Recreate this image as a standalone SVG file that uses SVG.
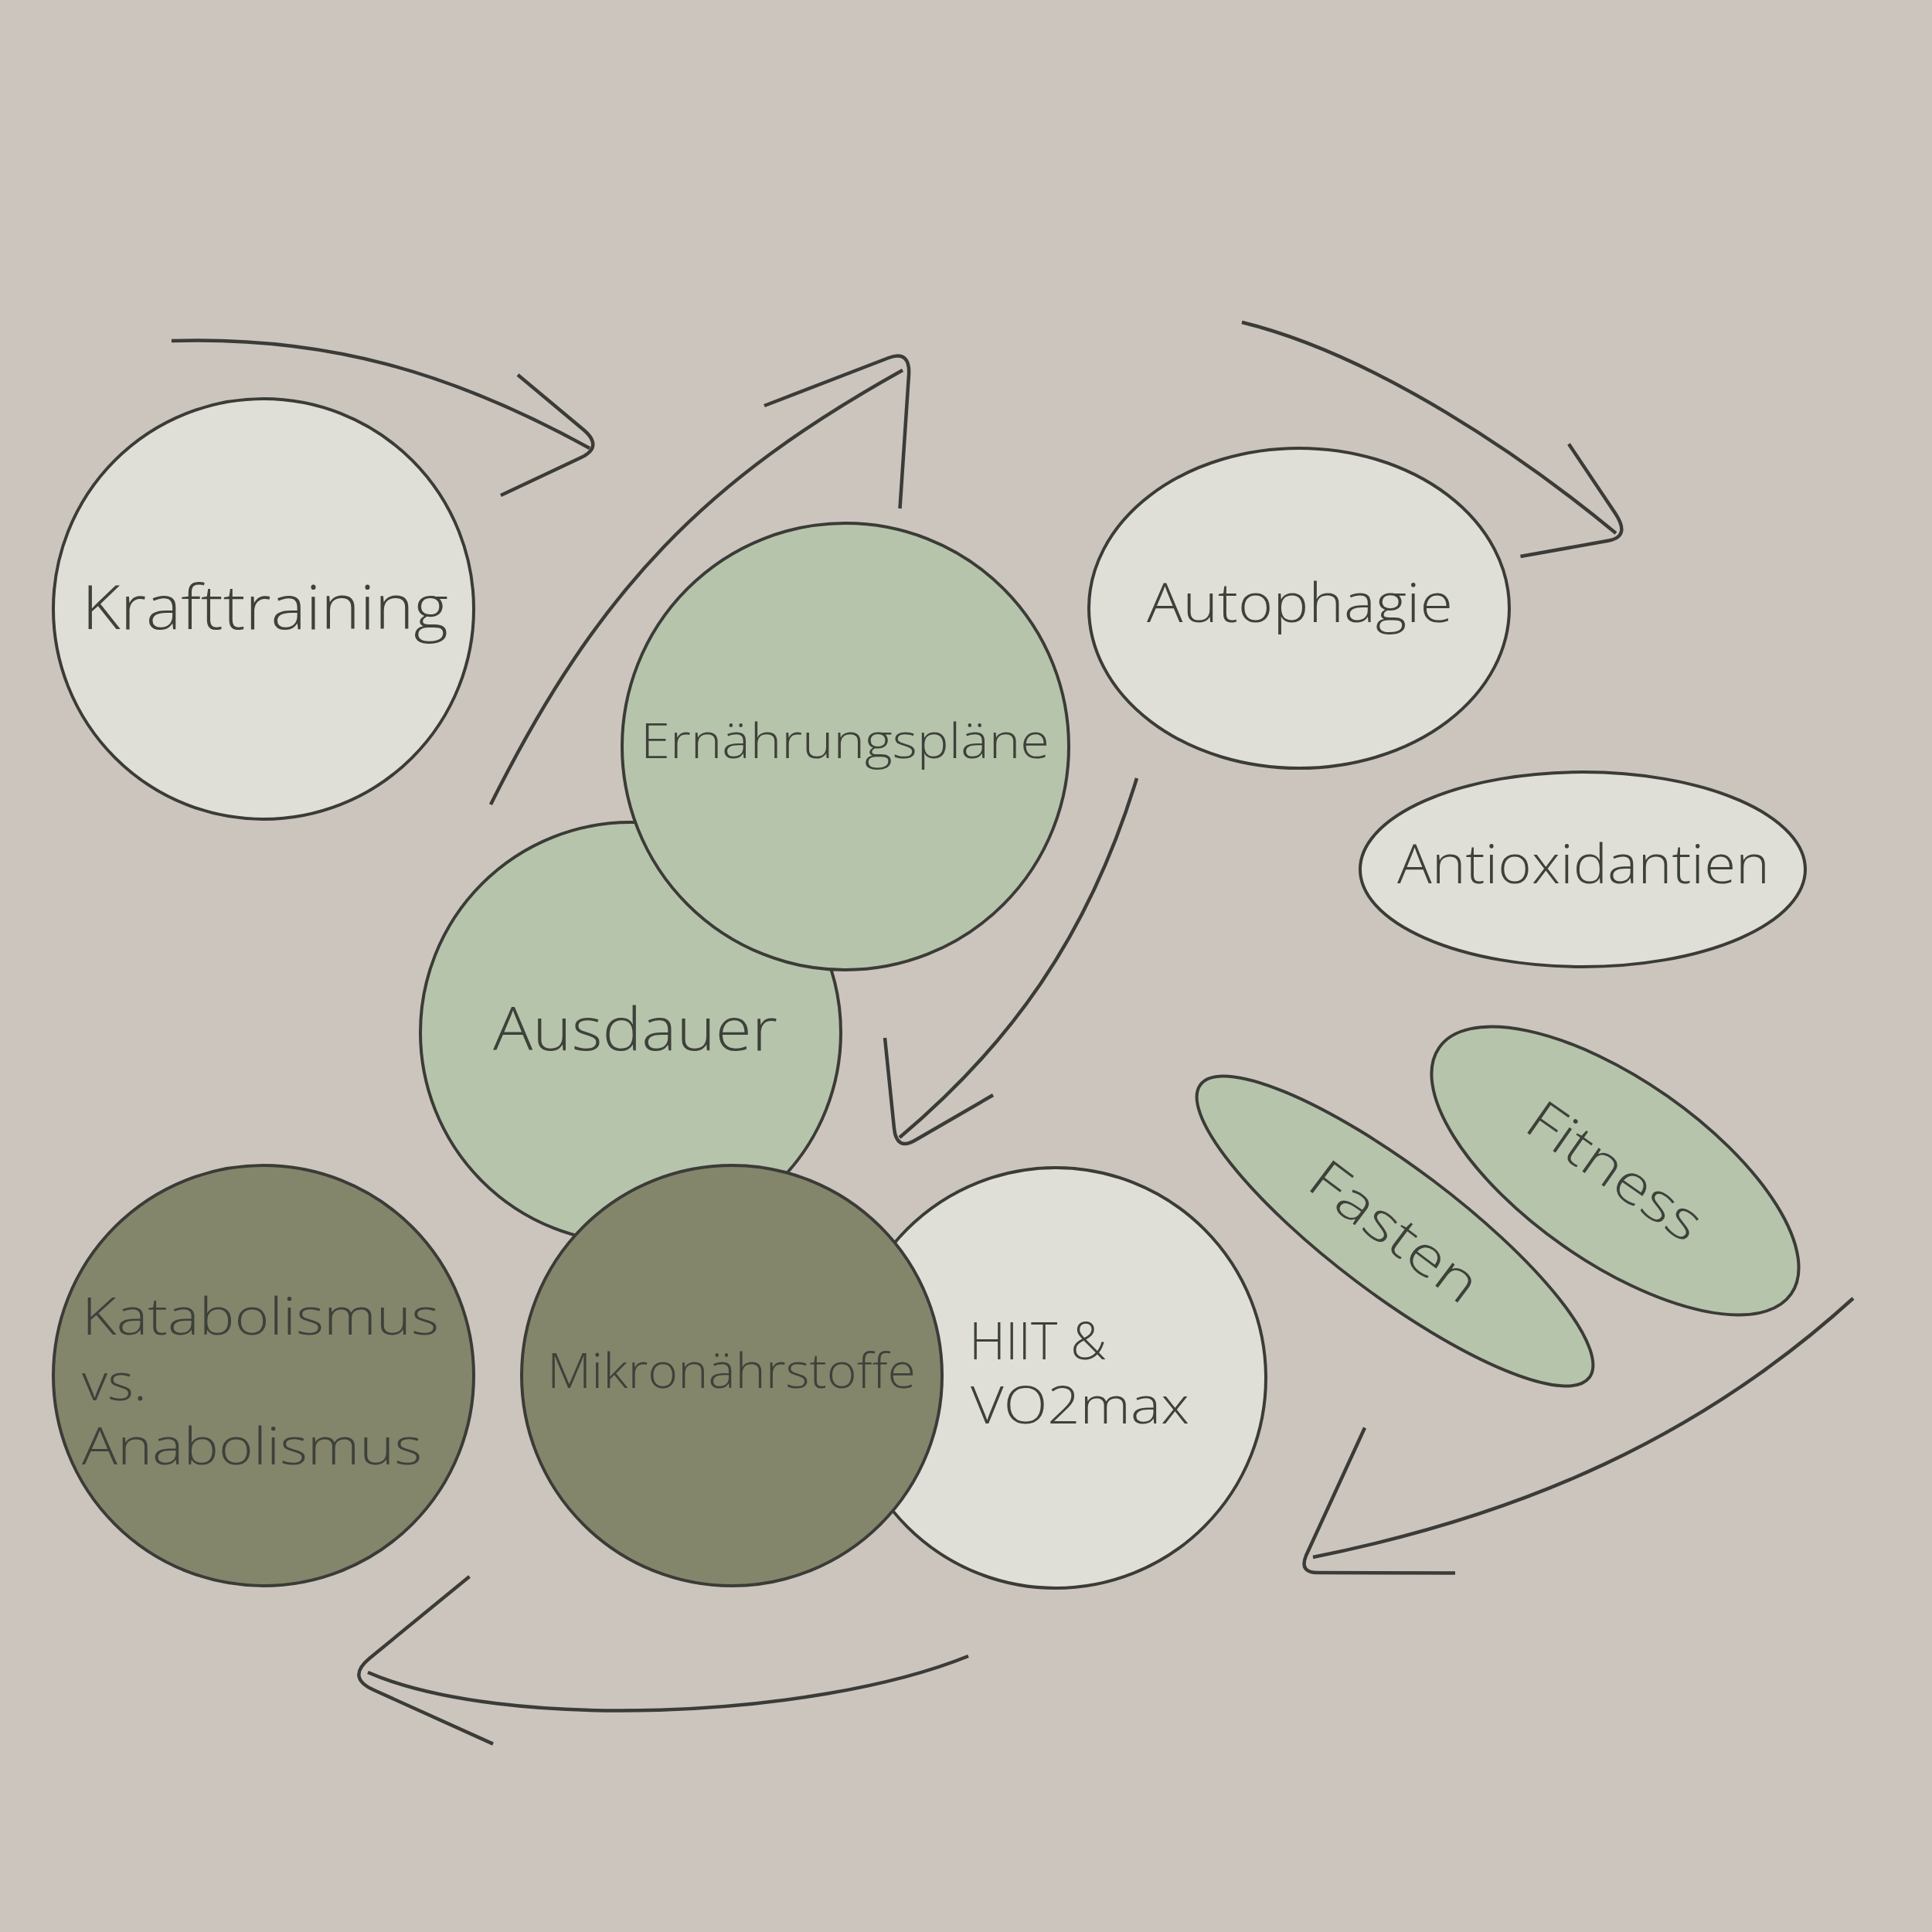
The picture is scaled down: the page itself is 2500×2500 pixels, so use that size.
<svg xmlns="http://www.w3.org/2000/svg" width="2500" height="2500" viewBox="0 0 2500 2500">
<style>
.n{stroke:#3b3b37;stroke-width:4}
.light{fill:#dfdfd8}
.green{fill:#b6c4ab}
.olive{fill:#83866b}
text{font-family:"Open Sans","Liberation Sans",sans-serif;font-weight:300;fill:#3e413a}
.c path{fill:none;stroke:#3b3b37;stroke-width:4.5;stroke-linecap:butt;stroke-linejoin:round}
</style>
<rect width="2500" height="2500" fill="#cbc5be"/>
<g id="connectors" class="c">
<path d="M222,441 C422,435 583,481 763,580"/>
<path d="M670,485 L755,556 Q781,578 752,592 L648,641"/>
<path d="M635,1041 C775,760 915,620 1168,479"/>
<path d="M989,525 L1150,463 Q1178,453 1176,485 L1164.5,658"/>
<path d="M1607,417 C1782,460 1975,594 2091,690"/>
<path d="M2030,574.5 L2090,664 Q2110,694 2082,699.5 L1967.5,720"/>
<path d="M1471,1007 C1407,1217 1302,1356 1164,1472"/>
<path d="M1145,1343 L1157,1460 Q1160,1490 1185,1475 L1285,1417"/>
<path d="M2398,1680 C2200,1860 1972,1960 1699,2015"/>
<path d="M1766,1847.5 L1690,2013 Q1681,2035 1705,2035 L1883,2035.5"/>
<path d="M1253,2143 C1050,2225 650,2240 476,2164"/>
<path d="M607.5,2040 L478,2146 Q448,2171 484,2187 L638,2256.6"/>
</g>
<g id="krafttraining"><circle class="n light" cx="341" cy="788" r="272"/><text x="106" y="814" font-size="80" textLength="474" lengthAdjust="spacingAndGlyphs">Krafttraining</text></g>
<g id="ausdauer"><circle class="n green" cx="816" cy="1336" r="272"/><text x="638" y="1359" font-size="78" textLength="368" lengthAdjust="spacingAndGlyphs">Ausdauer</text></g>
<g id="ernaehrungsplaene"><circle class="n green" cx="1094" cy="966" r="289"/><text x="829" y="981" font-size="62" textLength="529" lengthAdjust="spacingAndGlyphs">Ernährungspläne</text></g>
<g id="hiit"><circle class="n light" cx="1366" cy="1783" r="272"/><text font-size="67"><tspan x="1254" y="1759" textLength="178" lengthAdjust="spacingAndGlyphs">HIIT &amp;</tspan><tspan x="1256" y="1842" textLength="283" lengthAdjust="spacingAndGlyphs">VO2max</tspan></text></g>
<g id="mikronaehrstoffe"><circle class="n olive" cx="947" cy="1780" r="272"/><text x="708" y="1796" font-size="62" textLength="477" lengthAdjust="spacingAndGlyphs">Mikronährstoffe</text></g>
<g id="katabolismus"><circle class="n olive" cx="341" cy="1780" r="272"/><text font-size="67"><tspan x="106" y="1727" textLength="462" lengthAdjust="spacingAndGlyphs">Katabolismus</tspan><tspan x="106" y="1812" textLength="84" lengthAdjust="spacingAndGlyphs">vs.</tspan><tspan x="106" y="1895" textLength="440" lengthAdjust="spacingAndGlyphs">Anabolismus</tspan></text></g>
<g id="autophagie"><ellipse class="n light" cx="1681" cy="787" rx="272" ry="207"/><text x="1484" y="805" font-size="70" textLength="396" lengthAdjust="spacingAndGlyphs">Autophagie</text></g>
<g id="antioxidantien"><ellipse class="n light" cx="2048" cy="1125" rx="288" ry="126"/><text x="1808" y="1143" font-size="70" textLength="482" lengthAdjust="spacingAndGlyphs">Antioxidantien</text></g>
<g id="fasten" transform="translate(1805,1593) rotate(37)"><ellipse class="n green" cx="0" cy="0" rx="315" ry="82"/><text x="0" y="25" font-size="70" text-anchor="middle" textLength="255" lengthAdjust="spacingAndGlyphs">Fasten</text></g>
<g id="fitness" transform="translate(2090,1515) rotate(35)"><ellipse class="n green" cx="0" cy="0" rx="278" ry="118"/><text x="0" y="25" font-size="70" text-anchor="middle" textLength="259" lengthAdjust="spacingAndGlyphs">Fitness</text></g>
</svg>
